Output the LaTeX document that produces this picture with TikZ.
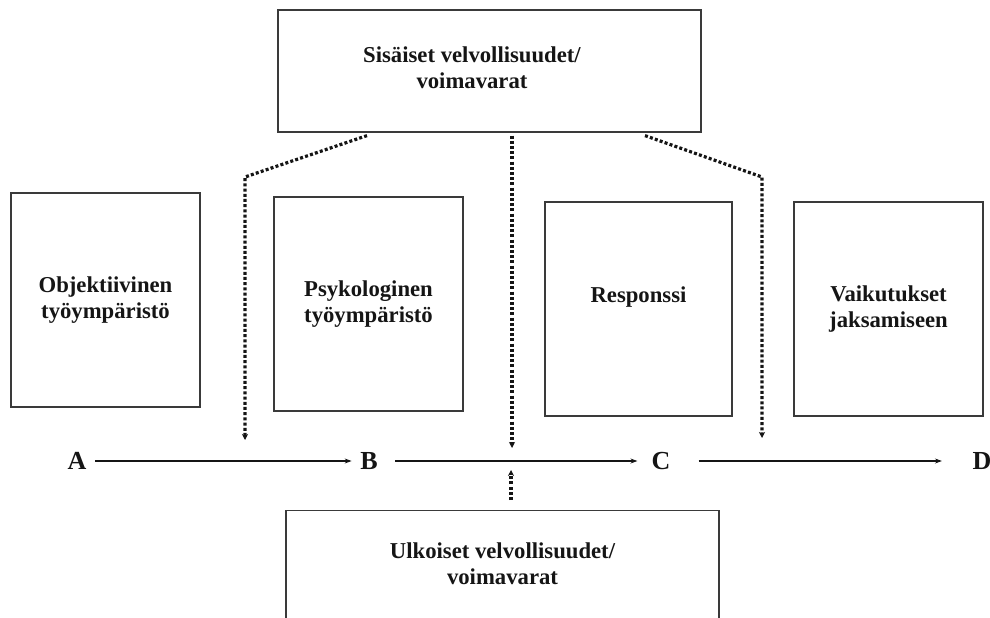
\documentclass[tikz,border=0pt]{standalone}
\usepackage{fontspec}
\setmainfont{Liberation Serif}
\usepackage{tikz}
\usetikzlibrary{arrows.meta,positioning,calc}
\definecolor{ink}{HTML}{151515}
\definecolor{frame}{HTML}{3A3A3A}

\begin{document}
\begin{tikzpicture}[
  x=1pt,y=-1pt,
  every node/.style={font=\bfseries\fontsize{22.7}{26}\selectfont,text=ink},
  box/.style={rectangle,draw=frame,line width=1.2pt,minimum width=189pt,minimum height=214pt,inner sep=0pt,align=center},
  letter/.style={inner sep=0pt,font=\bfseries\fontsize{26}{30}\selectfont},
  flow/.style={line width=1.4pt,color=ink,-{Stealth[length=7pt,width=5pt]}},
  dots/.style={line width=3.2pt,color=ink,dash pattern=on 3pt off 2.2pt,-{Stealth[length=6pt,width=6pt]}}
]
\useasboundingbox (0,0) rectangle (990,618);

% upper and lower resources
\node[box,minimum width=423pt,minimum height=122pt] (sis) at (489.5,71) {};
\node[align=center] (sistxt) at (472,68) {Sisäiset velvollisuudet/\\voimavarat};
\node[box,minimum width=433pt,minimum height=150pt,anchor=north] (ulk) at (502.5,510) {};
\node[align=center] (ulktxt) at (502.5,564) {Ulkoiset velvollisuudet/\\voimavarat};

% the four stages
\node[box] (obj) at (105.5,300) {Objektiivinen\\työympäristö};
\node[box] (psy) at (368.5,304) {Psykologinen\\työympäristö};
\node[box,minimum width=187pt] (resp) at (638.5,309) {};
\node (resptxt) at (638.5,297) {Responssi};
\node[box] (vaik) at (888.5,309) {Vaikutukset\\jaksamiseen};

% process line
\node[letter] (A) at (77,461) {A};
\node[letter] (B) at (369,461) {B};
\node[letter] (C) at (661,461) {C};
\node[letter] (D) at (982,461) {D};
\draw[flow,shorten <=8.5pt,shorten >=8.5pt] (A) -- (B);
\draw[flow,shorten <=17.5pt,shorten >=14pt] (B) -- (C);
\draw[flow,shorten <=28pt,shorten >=30.5pt] (C) -- (D);

% influences
\coordinate (kneeL) at (245,177);
\coordinate (inL) at (245,440);
\coordinate (inM) at (512,448);
\coordinate (kneeR) at (762,177);
\coordinate (inR) at (762,438);
\coordinate (inU) at (511,470);
\draw[dots] ([xshift=-122.5pt,yshift=-3pt]sis.south) -- (kneeL) -- (inL);
\draw[dots] ([xshift=22.5pt,yshift=-3pt]sis.south) -- (inM);
\draw[dots] ([xshift=155.5pt,yshift=-3pt]sis.south) -- (kneeR) -- (inR);
\draw[dots] ([xshift=8.5pt,yshift=10pt]ulk.north) -- (inU);
\end{tikzpicture}
\end{document}
